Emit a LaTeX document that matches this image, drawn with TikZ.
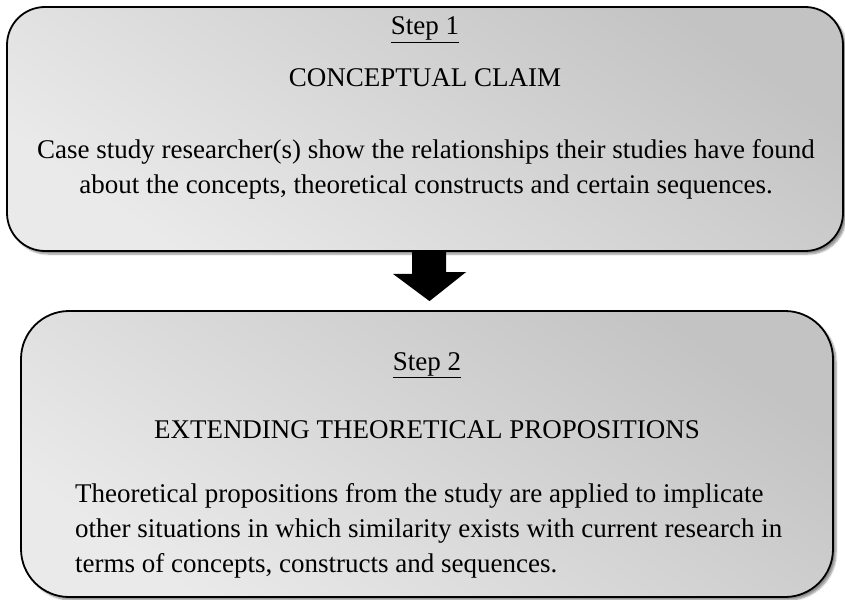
\documentclass[tikz,border=0pt]{standalone}
\usepackage{fontspec}
\setmainfont{Liberation Serif}
\usetikzlibrary{shadows.blur}
\definecolor{paneldark}{HTML}{C3C3C3}
\definecolor{panellight}{HTML}{EAEAEA}
\tikzset{
  panel/.style={draw=black, line width=1.8pt, inner sep=0pt,
    top color=paneldark, bottom color=panellight, shading angle=-35,
    blur shadow={shadow xshift=3pt, shadow yshift=-3pt,
      shadow blur steps=6, shadow opacity=45}},
  txt/.style={font=\fontsize{27}{35}\selectfont, inner sep=0pt, anchor=base},
  txtl/.style={txt, anchor=base west},
}
\begin{document}
\begin{tikzpicture}[x=1pt,y=-1pt]
\useasboundingbox (0,0) rectangle (845,599);

% step boxes
\node[panel, rounded corners=38pt, minimum width=836pt, minimum height=244pt]
  (b1) at (425,129) {};
\node[panel, rounded corners=48pt, minimum width=812pt, minimum height=286pt]
  (b2) at (427,454) {};

% step 1 text
\node[txt] (s1) at (425,35) {\underline{Step 1}};
\node[txt] (h1) at (425,87) {CONCEPTUAL CLAIM};
\node[txt] (p1a) at (426,158) {Case study researcher(s) show the relationships their studies have found};
\node[txt] (p1b) at (426,193) {about the concepts, theoretical constructs and certain sequences.};

% step 2 text
\node[txt] (s2) at (427,370) {\underline{Step 2}};
\node[txt] (h2) at (427,438) {EXTENDING THEORETICAL PROPOSITIONS};
\node[txtl] (p2a) at (75,502) {Theoretical propositions from the study are applied to implicate};
\node[txtl] (p2b) at (75,537) {other situations in which similarity exists with current research in};
\node[txtl] (p2c) at (75,572) {terms of concepts, constructs and sequences.};

% block arrow from step 1 to step 2
\coordinate (ab) at ([xshift=4pt]b1.south);
\coordinate (at) at ([xshift=2.5pt, yshift=9pt]b2.north);
\fill[black] ([xshift=-17pt]ab) -- ++(0,22) -- ++(-19,0) -- (at)
  -- ++(36.5,-29) -- ++(-20,0) -- ++(0,-22) -- cycle;
\end{tikzpicture}
\end{document}
